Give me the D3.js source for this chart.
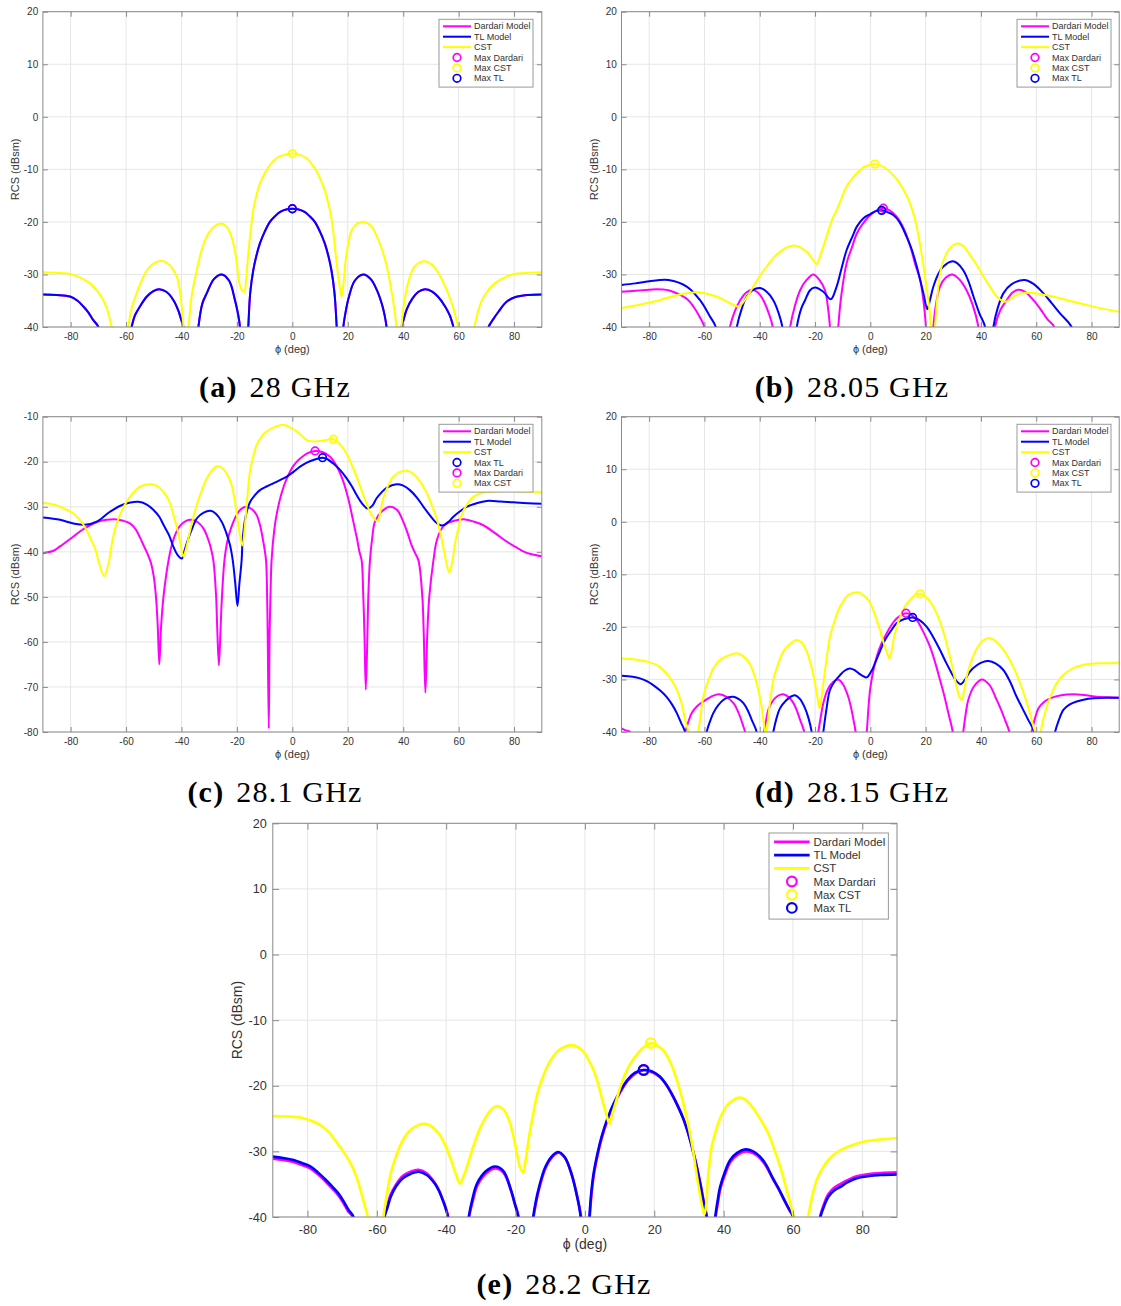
<!DOCTYPE html>
<html>
<head>
<meta charset="utf-8">
<script src="https://cdn.jsdelivr.net/npm/d3@7"></script>
<style>
  body { margin: 0; background: #fff; }
  svg { display: block; }
</style>
</head>
<body>
<svg id="fig" width="1121" height="1306"></svg>
<script>
// ---------- tick values ----------
const phiTicks = [-80, -60, -40, -20, 0, 20, 40, 60, 80];
const rcsTicks = [-40, -30, -20, -10, 0, 10, 20];
const rcsTicksDeep = [-80, -70, -60, -50, -40, -30, -20, -10];

// ---------- 28 GHz : [phi (deg), RCS (dBsm)] ----------
const cst28 = [[-90,-29.6],[-85,-29.7],[-80.2,-29.9],[-76.5,-30.6],[-73,-31.7],[-70.5,-33.1],[-68.2,-34.9],[-66.6,-37],[-65.2,-40],[-62.2,-52],[-59.2,-40],[-58,-36.5],[-56.2,-33.6],[-54.3,-31.1],[-52.5,-29.2],[-50,-27.9],[-47.1,-27.4],[-44.5,-28.1],[-41.7,-30.4],[-40.6,-33],[-39.9,-36.1],[-38.6,-43],[-37.5,-40],[-36.3,-34],[-34.5,-29.2],[-32.8,-25.5],[-30.9,-22.8],[-28.2,-20.9],[-25.5,-20.3],[-23.2,-21.3],[-21.3,-24.1],[-20.1,-27.6],[-19.1,-31.7],[-18.2,-33],[-17.4,-33.3],[-16.7,-31],[-15.9,-26],[-15,-21.5],[-14.1,-17.7],[-13,-15],[-11.7,-12.7],[-10,-10.8],[-8.1,-9.2],[-6.2,-8.1],[-4.4,-7.5],[-2,-7.1],[0,-7],[2.5,-7.2],[5.2,-7.9],[7,-9],[8.8,-10.4],[10.3,-12.1],[11.8,-14.2],[13,-16.5],[14.2,-19.6],[15.1,-23.4],[16,-27.9],[17,-32],[17.8,-34.2],[18.5,-31.5],[19.2,-27.5],[20.2,-24],[21.5,-21.5],[23.5,-20.3],[26,-20],[28.5,-20.8],[30.5,-22.8],[32.5,-25.5],[34.3,-29],[35.9,-33.5],[36.9,-37],[37.6,-40],[38.4,-43],[39.3,-40],[40.3,-35.5],[41.8,-31.5],[43.8,-28.7],[46,-27.7],[48,-27.5],[50.5,-28.2],[53,-30],[55.4,-32.6],[57.2,-35],[58.6,-37.4],[59.8,-40],[62.8,-52],[65.7,-40],[67,-37],[68.5,-34.8],[70.5,-33.1],[73,-31.7],[76.5,-30.6],[80.2,-29.9],[85,-29.7],[90,-29.6]];
const tl28 = [[-90,-33.8],[-85,-33.9],[-80.2,-34.2],[-77.5,-35],[-75.4,-36.1],[-73.5,-37.3],[-71.8,-38.7],[-70,-40],[-64,-55],[-58,-40],[-56.8,-37.8],[-55,-36.1],[-52.5,-34.2],[-50.3,-33.2],[-48,-32.8],[-45.5,-33.3],[-42.9,-34.9],[-41.2,-36.8],[-40.1,-38.6],[-39.3,-40],[-36.6,-55],[-33.9,-40],[-32.5,-35.6],[-30.9,-33.6],[-28.3,-30.9],[-25.5,-30],[-22.8,-31.2],[-20.7,-34.9],[-19.6,-37.5],[-18.9,-40],[-17.4,-55],[-15.9,-40],[-15.2,-33.5],[-14.1,-29.2],[-13,-26.5],[-11.7,-24.1],[-10,-21.9],[-8.1,-20],[-6.2,-18.9],[-4.4,-18.1],[-2,-17.6],[0,-17.5],[2,-17.6],[4.4,-18.1],[6.2,-18.9],[8.1,-20],[10,-21.9],[11.7,-24.1],[13,-26.5],[14.1,-29.2],[15.2,-33.5],[16,-40],[17.2,-55],[18.4,-40],[19.1,-37.5],[20.3,-34.5],[22.5,-31.2],[25.6,-30],[28.3,-30.9],[30.5,-33],[32.5,-36],[33.3,-37.8],[34,-40],[36.7,-55],[39.4,-40],[40.2,-38.5],[41.3,-36.6],[43.3,-34.6],[45.5,-33.3],[47.9,-32.8],[50.3,-33.2],[52.5,-34.2],[55,-36],[56.8,-37.8],[58.1,-40],[64,-55],[70.8,-40],[72.5,-38.5],[74.5,-37],[77.3,-35.2],[80.5,-34.3],[85,-33.9],[90,-33.8]];
const dardari28 = tl28.map(p => [p[0], p[1]]);
const maxDardari28 = [0, -17.5];
const maxCst28 = [0, -7];
const maxTl28 = [0, -17.5];

// ---------- 28.05 GHz ----------
const cst2805 = [[-90,-36.4],[-85,-35.9],[-78.5,-35.2],[-73,-34.4],[-68.8,-33.8],[-62.8,-33.4],[-58,-33.8],[-55.6,-34.2],[-51,-35.4],[-47.7,-36.1],[-45,-34.6],[-42.3,-32.3],[-40,-30.3],[-37.5,-28.5],[-35,-26.8],[-32.7,-25.7],[-30,-24.8],[-27.8,-24.5],[-25.5,-24.8],[-23,-25.7],[-21,-27],[-19.4,-28],[-18.2,-26.5],[-17,-24.7],[-15.2,-21.7],[-13.4,-19],[-12.6,-18.2],[-10.5,-15.6],[-8.7,-13.3],[-6.5,-11.7],[-4.8,-10.7],[-2,-9.5],[1.6,-9.0],[5,-9.6],[8.1,-11],[10,-12.2],[12,-13.9],[14,-16],[15.9,-19],[17.3,-22.3],[18.5,-26],[19.8,-30.5],[21,-34.9],[21.9,-40],[22.6,-46],[23.4,-40],[24.2,-34.5],[25.2,-29.8],[26.5,-27.3],[28.2,-25.4],[30,-24.4],[31.8,-24.1],[34,-24.8],[36,-26.3],[38.5,-28.2],[40.9,-30.4],[43.5,-32.5],[45.7,-34.2],[48.7,-35.2],[51,-34.5],[54.1,-33.6],[57.7,-33.5],[62,-33.8],[66.2,-34.2],[72,-35],[78.2,-35.8],[84,-36.5],[90,-37.1]];
const tl2805 = [[-90,-32.0],[-85,-31.7],[-80,-31.3],[-73,-31.05],[-66.4,-32.3],[-61.6,-34.9],[-58,-38],[-55.9,-40],[-52,-52],[-48.3,-40],[-46.5,-36.5],[-44.7,-34.2],[-42.3,-32.9],[-39.9,-32.6],[-37.5,-33.3],[-35.1,-34.9],[-33.2,-37.3],[-31.8,-40],[-29.2,-52],[-26.6,-40],[-25,-36.5],[-23.6,-34.9],[-21.8,-33],[-20,-32.5],[-17,-33.3],[-14.3,-34.7],[-12.2,-32.3],[-10.5,-29],[-8.6,-25.4],[-6.5,-22.8],[-4.9,-20.9],[-2.5,-19.3],[0,-18.5],[2,-17.95],[4.1,-17.8],[6,-18.1],[8.3,-18.7],[10.5,-20],[13.1,-22.8],[15,-25.3],[16.8,-28.5],[18,-31],[19.2,-33.6],[20.6,-36.6],[21.5,-35],[22.8,-32.3],[24.5,-30],[26.4,-28.5],[29.7,-27.5],[31.5,-27.9],[33.6,-29.2],[35.5,-31.3],[37.3,-34.2],[39.5,-37.5],[41.5,-40],[43,-50],[44.5,-40],[46,-36.5],[48.1,-33.6],[51,-31.9],[55.7,-31.05],[59,-31.8],[62.6,-33.6],[65.5,-35.4],[68.6,-37.4],[72.8,-40],[77,-48],[90,-60]];
const dardari2805 = [[-90,-33.3],[-85,-33.1],[-80,-32.9],[-77.3,-32.8],[-73,-33],[-68.8,-33.9],[-66,-34.8],[-64,-36.1],[-61.8,-38],[-60,-40],[-55.4,-55],[-50.8,-40],[-49,-37],[-47.1,-34.9],[-45,-33.5],[-42.9,-32.9],[-40.8,-33.4],[-38.7,-34.9],[-36.8,-37.3],[-35.3,-40],[-32.2,-55],[-29,-40],[-27.3,-36],[-25.4,-33],[-23,-31],[-20.6,-30],[-18.5,-31],[-16.4,-33],[-15.4,-36],[-14.6,-40],[-13.1,-55],[-11.6,-40],[-10.5,-34],[-8.6,-27.9],[-6.5,-24.6],[-4.9,-22.2],[-2.5,-20.2],[0,-18.7],[2.3,-17.8],[4.7,-17.4],[7,-17.8],[9.5,-19],[12,-21.2],[14.3,-24.4],[16.3,-28.2],[18,-31],[19.2,-35],[20.1,-40],[21.5,-55],[22.8,-40],[23.8,-35.5],[25.2,-32.3],[27.3,-30.6],[29.7,-30],[32.3,-31],[34.8,-33],[37,-35.8],[39.1,-40],[42.1,-55],[45.1,-40],[47,-36.8],[49.3,-34.9],[51.3,-33.5],[53.5,-32.9],[56,-33.3],[59,-34.9],[61.5,-36.6],[64,-38.5],[66.5,-40],[70,-50],[90,-60]];
const maxDardari2805 = [4.7, -17.4];
const maxCst2805 = [1.6, -9.0];
const maxTl2805 = [4.1, -17.8];

// ---------- 28.1 GHz ----------
const cst281 = [[-90,-29.1],[-86,-29.5],[-83.8,-30],[-79,-31.5],[-76.5,-33],[-74.2,-35.2],[-72.4,-37.6],[-71,-39.5],[-70,-41.9],[-67.9,-45.4],[-66.1,-41.9],[-65.2,-38.5],[-64,-35],[-62.2,-31.8],[-60.4,-29.5],[-58.6,-27.8],[-55,-25.5],[-50.7,-25],[-48.5,-25.5],[-46.5,-26.7],[-44.5,-28.7],[-42.9,-31.8],[-41.6,-34.7],[-40.5,-37.7],[-39.3,-41.1],[-38.4,-39.4],[-37.5,-37],[-36,-33],[-34.5,-29.6],[-32.7,-26.4],[-30.9,-23.7],[-29,-21.9],[-27.3,-21],[-25.5,-21.3],[-23.7,-22.6],[-22,-25],[-20.7,-28.9],[-19.6,-33.5],[-18.9,-36.3],[-18,-38.6],[-17.1,-34],[-16.2,-27.5],[-15.3,-22.2],[-14,-18.5],[-12.9,-16.3],[-11,-14.3],[-9.3,-13.3],[-6,-12.2],[-3.2,-11.8],[-1,-12.3],[1.6,-13.3],[3.5,-14.3],[5.2,-15.2],[8.2,-15.5],[11.8,-15.2],[14.8,-15],[16.5,-15.7],[18.4,-17],[20.2,-19],[22,-21.5],[23.8,-24.3],[25.6,-27.4],[27.1,-29.8],[28.6,-31.8],[30.7,-33.2],[31.8,-31],[32.8,-28.1],[34.5,-25.4],[36.4,-23.3],[38.7,-22.3],[41.2,-22],[43.5,-22.6],[46.1,-24.4],[48.3,-26.7],[50.3,-29.6],[52,-32.5],[53.3,-35.5],[54.4,-38.8],[55.4,-41.9],[56.6,-44.6],[57.8,-41.9],[58.6,-38.5],[59.8,-35],[61.1,-31.8],[63,-29.5],[65.3,-27.8],[68,-27],[71.3,-26.7],[77.3,-26.5],[83,-26.6],[90,-26.7]];
const tl281 = [[-90,-32.4],[-83.8,-32.9],[-79,-33.7],[-74.8,-34],[-70.6,-33.3],[-65.8,-31.1],[-61,-29.5],[-55.6,-28.9],[-52.5,-29.5],[-50.1,-30.7],[-48,-32.2],[-46.5,-34],[-44.5,-36.3],[-42.9,-38.9],[-41.3,-40.8],[-39.9,-41.5],[-38.8,-39.5],[-37.5,-37],[-36,-34.6],[-34.5,-32.6],[-32,-31.3],[-29.5,-30.9],[-27.5,-31.6],[-25.5,-33.3],[-24,-35.5],[-22.5,-38.5],[-21.5,-41.9],[-20.6,-47],[-19.8,-52],[-19.1,-47],[-18.3,-41.9],[-17.9,-37],[-16.8,-32],[-15.3,-29],[-13.5,-27.4],[-11.7,-26.3],[-9.3,-25.5],[-6.9,-24.8],[-4.5,-24.1],[-2,-23.3],[0.5,-22.2],[2.8,-21.1],[5.2,-20.2],[7.6,-19.6],[10.9,-19.1],[12.8,-19.5],[14.8,-20.4],[17.2,-21.8],[19.6,-23.7],[21.5,-25.5],[23.2,-27.4],[25.2,-29.3],[27.2,-30.4],[28.8,-29.8],[30.4,-28.1],[32.2,-26.8],[34,-25.8],[37.6,-25],[40,-25.3],[42.4,-26.3],[45,-28],[47.3,-30],[49.5,-31.8],[51.5,-33.3],[53,-34],[54.5,-34.1],[56.2,-33.4],[58.1,-32.2],[60.5,-31],[62.9,-30],[66.5,-29.2],[70.1,-28.7],[75,-28.8],[79.7,-29],[85,-29.2],[90,-29.3]];
const dardari281 = [[-90,-40.3],[-86,-39.7],[-83.8,-38.8],[-79,-36.6],[-76,-35.2],[-73,-34.1],[-70,-33.3],[-67,-32.9],[-63.4,-32.8],[-61,-33.1],[-58.6,-33.7],[-56.5,-35],[-55,-36.8],[-53.5,-38.8],[-52.2,-40.5],[-51,-42.5],[-50,-45.5],[-49.2,-50],[-48.6,-56],[-48,-65],[-47.4,-57],[-46.5,-50],[-45.6,-45.5],[-44.7,-42],[-43.5,-38.5],[-42,-35.8],[-40.5,-34.2],[-38.5,-33.2],[-36.3,-32.9],[-34,-33.5],[-32.1,-34.8],[-30.8,-36.5],[-29.7,-38.5],[-28.5,-41.9],[-27.5,-50],[-27.1,-57],[-26.5,-65.2],[-25.9,-57],[-25.4,-50],[-24.5,-41.9],[-23.5,-37.8],[-22,-34.5],[-20.1,-31.8],[-18.5,-30.5],[-16.5,-30],[-14.7,-30.5],[-12.9,-31.8],[-11.7,-34],[-10.5,-37.7],[-9.5,-41.9],[-9.1,-50],[-8.9,-58],[-8.5,-79.2],[-8.2,-58],[-7.9,-50],[-7.5,-41.9],[-6.5,-35],[-5.7,-31.8],[-4,-27.2],[-2,-23.7],[0.5,-20.8],[2.8,-19.3],[5.5,-18.1],[8.2,-17.6],[11,-17.9],[13.6,-18.9],[16,-21],[18.4,-24.4],[20.3,-28.5],[22,-33.3],[23.3,-37],[24.2,-40],[25,-41.9],[25.6,-50],[26,-58],[26.5,-70.6],[27.1,-58],[27.4,-50],[28,-41.9],[28.8,-37],[29.8,-33.3],[32.3,-31],[35.2,-30],[37.8,-30.7],[40,-33.3],[41.5,-35.7],[43,-38.5],[44.3,-40.3],[45.5,-41.9],[46.9,-50],[47.4,-58],[48,-71.3],[48.7,-58],[49.4,-50],[50.9,-41.9],[52.1,-37.5],[54,-34.7],[55.7,-33.7],[58.5,-33.1],[62.3,-32.8],[65.5,-33.3],[68.9,-34.1],[73,-35.8],[77.3,-37.7],[80.5,-38.9],[83.3,-39.9],[86,-40.5],[90,-41]];
const maxTl281 = [10.9, -19.1];
const maxDardari281 = [8.2, -17.6];
const maxCst281 = [14.8, -15];

// ---------- 28.15 GHz ----------
const cst2815 = [[-90,-26],[-85,-26.2],[-80.9,-26.6],[-77.5,-27.2],[-74.9,-28.2],[-72.3,-29.8],[-70,-32],[-68.3,-34.5],[-67,-37.7],[-65.8,-40],[-64,-48],[-62.2,-40],[-61.3,-36.5],[-60.4,-33.3],[-58.6,-30.2],[-56.8,-27.9],[-54.6,-26.4],[-52.5,-25.7],[-48.3,-25],[-46.2,-25.5],[-44.1,-26.6],[-42.5,-28.3],[-41.1,-30.7],[-40.1,-33],[-39.3,-35.2],[-38.4,-38.8],[-37.7,-41],[-37.1,-38],[-36.2,-34],[-35.1,-30.1],[-33.3,-27],[-31.5,-24.7],[-29,-23.2],[-26.6,-22.5],[-24.8,-23],[-23,-24.7],[-21.5,-27.2],[-20,-30.7],[-19.2,-33.2],[-18.4,-35.5],[-17.7,-33.5],[-17,-30.7],[-15.8,-26],[-14.6,-21.9],[-13,-19],[-11.6,-16.8],[-10,-15.3],[-8.6,-14.2],[-6.5,-13.6],[-4.6,-13.4],[-2.7,-13.9],[-0.7,-14.9],[0.8,-16.5],[2.3,-18.7],[3.5,-20.6],[4.7,-22.8],[5.8,-24.6],[6.9,-26],[7.7,-24.5],[8.6,-21.9],[9.9,-19.4],[11.3,-17.4],[12.8,-15.9],[14.3,-14.9],[16,-14],[18,-13.7],[19.8,-14.2],[21.6,-15.2],[23.4,-16.8],[25.2,-19],[27,-22],[28.8,-25.7],[30,-28.5],[31.2,-31.4],[32.2,-33.3],[33,-33.9],[33.8,-32.4],[34.8,-29.5],[36.5,-26.5],[38.5,-24.1],[40.5,-22.7],[42.7,-22.1],[44.8,-22.5],[46.9,-23.5],[49.3,-25.3],[51.7,-27.6],[53.8,-30.2],[55.9,-33.3],[57.5,-36],[59,-39],[59.6,-40],[60.6,-46],[61.6,-40],[62.6,-37.5],[63.8,-35.2],[65.5,-32.8],[67.4,-30.7],[69.7,-29.2],[72.2,-28.2],[75,-27.5],[78.2,-27.1],[84,-26.9],[90,-26.8]];
const tl2815 = [[-90,-29.3],[-86,-29.5],[-83.3,-29.8],[-80.5,-30.4],[-78.5,-31.1],[-76,-32.1],[-73.7,-33.3],[-71.8,-34.7],[-70,-36.4],[-68.5,-38.2],[-67,-40],[-63.5,-52],[-59.2,-40],[-58,-38],[-56.8,-36.4],[-55,-34.9],[-53.2,-33.9],[-51.3,-33.4],[-49.5,-33.3],[-47.7,-33.7],[-45.9,-34.5],[-44.4,-35.8],[-42.9,-37.7],[-41.1,-40],[-38.2,-50],[-35.1,-40],[-34,-37.5],[-32.7,-35.5],[-30.5,-34],[-28.5,-33.2],[-27.2,-33],[-25.5,-33.7],[-23.6,-35.5],[-22.3,-37.5],[-21.2,-40],[-19,-50],[-17,-40],[-15.8,-35.4],[-14.6,-32],[-12.8,-30.3],[-11,-29.2],[-9.2,-28.3],[-7.4,-27.9],[-5.8,-28.2],[-4.3,-28.8],[-2.8,-29.3],[-1.3,-29.6],[0.2,-28.6],[1.7,-26.9],[3.5,-24.6],[5.3,-22.5],[7.5,-20.7],[9.5,-19.3],[12.3,-18.5],[15.3,-18.2],[17.8,-18.7],[20.4,-20],[22.8,-22],[25.2,-24.4],[27.4,-26.8],[29.4,-28.8],[31,-30.2],[32.7,-30.9],[34.3,-30],[36,-28.5],[38.5,-27.3],[40.6,-26.7],[42.7,-26.5],[45.4,-27],[48.1,-28.2],[50.5,-30.4],[52.9,-33.3],[55,-35.5],[57.1,-37.7],[59.3,-40],[63,-50],[66.8,-40],[68.2,-37.7],[69.8,-35.8],[72,-34.8],[74.6,-34.2],[77.5,-33.8],[80.7,-33.6],[85,-33.5],[90,-33.5]];
const dardari2815 = [[-90,-39.3],[-88.5,-39.7],[-86.9,-40],[-82,-48],[-77,-50],[-72,-46],[-67,-40],[-65.8,-38],[-64.6,-36.4],[-62.5,-35],[-60.4,-34.2],[-57.7,-33.3],[-55,-32.8],[-52.3,-33.2],[-49.5,-34.5],[-48.3,-35.6],[-47.1,-37.1],[-46.2,-38.5],[-45.3,-40],[-42,-50],[-38.5,-40],[-37.7,-37.8],[-36.9,-35.8],[-35.2,-34],[-33.4,-33.1],[-31.5,-32.8],[-29.7,-33.3],[-27.8,-34.5],[-26.6,-35.9],[-25.4,-37.7],[-23.9,-40],[-21.3,-50],[-18.8,-40],[-17.9,-37],[-17,-34.5],[-15.5,-32],[-13.5,-30.5],[-11.6,-30],[-9.8,-31],[-8,-33.3],[-7,-35.3],[-6.1,-37.7],[-5.3,-40],[-3.3,-50],[-1.3,-40],[-0.7,-35.5],[-0.1,-32],[1,-28.5],[2.3,-25.7],[4,-23.2],[5.9,-21.2],[7.7,-19.6],[9.5,-18.4],[11,-17.8],[12.9,-17.4],[14.8,-17.7],[16.8,-18.7],[19.2,-21],[21.6,-23.8],[23.4,-26.7],[25.2,-30.1],[26.7,-33],[28.2,-36.4],[29.8,-40],[31.7,-50],[33.6,-40],[34.5,-36.5],[35.4,-33.9],[37.5,-31.3],[40.3,-30],[43,-31],[45.7,-33.9],[47.3,-35.8],[48.7,-37.7],[50.3,-40],[54.3,-50],[58.3,-40],[59.5,-37.5],[60.8,-35.5],[62.8,-34.3],[65,-33.6],[69,-33],[73.4,-32.8],[78,-33],[81.9,-33.3],[86,-33.4],[90,-33.5]];
const maxDardari2815 = [12.9, -17.4];
const maxCst2815 = [18, -13.7];
const maxTl2815 = [15.3, -18.2];

// ---------- 28.2 GHz ----------
const cst282 = [[-90,-24.6],[-85,-24.7],[-81.5,-24.9],[-78.5,-25.4],[-75.7,-26.2],[-73.3,-27.4],[-71.1,-29],[-69.3,-30.3],[-67.6,-31.8],[-66,-33.7],[-64.7,-35.9],[-63.6,-38],[-62.6,-40],[-60.3,-50],[-58.1,-40],[-57.1,-36.5],[-56,-33.4],[-54.5,-30.8],[-52.5,-28.3],[-50,-26.6],[-48,-26],[-46.2,-25.8],[-44.2,-26.2],[-42.1,-27.3],[-40.3,-29],[-38.6,-31.3],[-37.2,-33.5],[-36,-34.9],[-35,-33.8],[-34,-32.3],[-32.2,-29.3],[-30.5,-26.8],[-28.5,-24.7],[-26.8,-23.5],[-25.3,-23.1],[-23.5,-23.6],[-21.9,-25.2],[-20.7,-27.5],[-19.6,-30.3],[-18.7,-32.4],[-17.8,-33.2],[-17,-31],[-16.1,-27.8],[-14.9,-24.3],[-13.7,-21.2],[-12.3,-18.9],[-10.9,-17.1],[-9.5,-15.8],[-8,-14.8],[-6,-14.1],[-3.9,-13.8],[-2,-14.1],[-0.4,-14.8],[1,-16],[2.5,-17.6],[3.7,-19.5],[4.8,-21.7],[6,-24],[7.1,-25.8],[7.9,-24.3],[8.8,-22.7],[10.2,-20.2],[11.7,-18.1],[13.4,-16.4],[15.2,-15.1],[17,-14.1],[19,-13.5],[21.2,-14],[23.3,-15.1],[25.1,-17],[26.8,-19.6],[28.3,-22.5],[29.7,-25.7],[31,-29.2],[32,-32.8],[33,-36],[34,-38.8],[34.5,-39.6],[35,-38],[35.5,-34],[36.5,-29.5],[37.8,-26.8],[39.2,-24.7],[40.7,-23.2],[42.5,-22.3],[44.4,-21.8],[46.3,-22.1],[48.2,-23.2],[50.5,-25],[52.9,-27.3],[54.7,-29.8],[56.3,-32.3],[57.6,-34.7],[58.7,-36.9],[60.2,-40],[62.3,-48],[64.4,-40],[65.5,-37],[66.8,-34.4],[68.5,-32.6],[70.2,-31.3],[72.5,-30.2],[74.9,-29.5],[77.8,-28.9],[80.7,-28.5],[85,-28.2],[90,-28.0]];
const tl282 = [[-90,-30.8],[-87,-31],[-84,-31.3],[-81.5,-31.8],[-79.2,-32.3],[-77,-33.2],[-74.6,-34.4],[-72.8,-35.4],[-71.1,-36.4],[-69.6,-37.6],[-68.2,-38.9],[-66.7,-40],[-62.3,-52],[-57.8,-40],[-56.9,-38.5],[-56,-36.9],[-54.3,-35.2],[-52.5,-34.1],[-50.2,-33.4],[-47.9,-33.1],[-45.6,-33.6],[-43.3,-34.9],[-42.1,-36],[-41,-37.4],[-40.2,-38.6],[-39.5,-40],[-36.5,-52],[-33.5,-40],[-32.4,-37.2],[-31.1,-34.9],[-28.5,-33],[-25.9,-32.3],[-23.5,-33],[-21.3,-35.9],[-20.3,-37.8],[-19.2,-40],[-17,-52],[-14.9,-40],[-14.1,-37.5],[-13.2,-35.4],[-11.5,-32.5],[-9.6,-30.8],[-7.7,-30.1],[-5.8,-30.9],[-3.9,-33.4],[-2.5,-36.3],[-1.2,-40],[0,-50],[1.3,-40],[1.8,-36.5],[2.5,-33.4],[3.6,-30.4],[4.8,-27.8],[6.5,-25],[8.3,-22.7],[10.3,-20.7],[12.3,-19.1],[14.5,-18],[16.9,-17.6],[19.2,-17.8],[21.6,-18.6],[23.3,-19.7],[25,-21.2],[26.8,-23.1],[28.5,-25.2],[30.3,-28.2],[32,-31.8],[33.2,-34.8],[34.3,-37.9],[35.1,-40],[36.3,-50],[37.6,-40],[38.2,-37.8],[39,-35.4],[40.4,-33.1],[41.9,-31.3],[44,-30.2],[46.3,-29.7],[48.5,-30],[50.5,-30.8],[52.3,-32.1],[54,-33.9],[55.8,-35.6],[57.5,-37.4],[58.8,-38.7],[60.1,-40],[64,-52],[67.9,-40],[69,-38.3],[70.2,-36.9],[71.8,-36],[73.7,-35.4],[75.8,-34.7],[78.4,-34.1],[81.5,-33.8],[85.3,-33.6],[90,-33.5]];
const dardari282 = [[-90,-31.1],[-87,-31.3],[-84,-31.6],[-81.5,-32.1],[-79.2,-32.6],[-77,-33.5],[-74.6,-34.7],[-72.8,-35.7],[-71.1,-36.7],[-69.6,-37.9],[-68.2,-39.2],[-66.9,-40],[-62.3,-52],[-57.9,-40],[-57,-38.4],[-56.1,-36.7],[-54.4,-35],[-52.6,-33.8],[-50.3,-33.1],[-48,-32.8],[-45.7,-33.3],[-43.4,-34.7],[-42.2,-35.8],[-41.1,-37.2],[-40.2,-38.5],[-39.4,-40],[-36.4,-52],[-33.4,-40],[-32.3,-37.5],[-31,-35.2],[-28.4,-33.3],[-25.8,-32.6],[-23.4,-33.3],[-21.2,-36.2],[-20.2,-38],[-19.1,-40],[-17,-52],[-14.8,-40],[-14,-37.6],[-13.1,-35.5],[-11.4,-32.6],[-9.5,-30.9],[-7.6,-30.2],[-5.7,-31],[-3.8,-33.5],[-2.4,-36.4],[-1.1,-40],[0.1,-50],[1.4,-40],[1.9,-36.6],[2.6,-33.5],[3.7,-30.5],[4.9,-27.9],[6.6,-25.1],[8.4,-22.8],[10.4,-20.8],[12.4,-19.2],[14.6,-18.1],[17,-17.6],[19.3,-17.9],[21.7,-18.7],[23.4,-19.8],[25.1,-21.3],[26.9,-23.2],[28.6,-25.3],[30.4,-28.3],[32.1,-31.9],[33.3,-34.9],[34.4,-38],[35.2,-40],[36.4,-50],[37.7,-40],[38.3,-38],[39.1,-35.6],[40.5,-33.4],[42,-31.6],[44.1,-30.5],[46.4,-30],[48.6,-30.3],[50.6,-31.1],[52.4,-32.4],[54.1,-34.1],[55.9,-35.8],[57.6,-37.6],[58.9,-38.9],[60.2,-40],[64,-52],[67.8,-40],[68.9,-38.1],[70.1,-36.6],[71.7,-35.6],[73.6,-35],[75.7,-34.4],[78.3,-33.8],[81.4,-33.5],[85.2,-33.3],[90,-33.2]];
const maxDardari282 = [17, -17.6];
const maxCst282 = [19, -13.5];
const maxTl282 = [16.9, -17.6];

// ---------- names and colours ----------
const lineNames = { dardari: "Dardari Model", tl: "TL Model", cst: "CST" };
const markerNames = { dardari: "Max Dardari", cst: "Max CST", tl: "Max TL" };
const colors = { dardari: "#ff00ff", tl: "#0000ff", cst: "#ffff00" };

// ---------- subplot definitions ----------
const panels = [
  { tag: "(a)", freq: "28 GHz", yTicks: rcsTicks,
    lines: { dardari: dardari28, tl: tl28, cst: cst28 },
    maxima: { dardari: maxDardari28, cst: maxCst28, tl: maxTl28 },
    markerOrder: ["dardari", "cst", "tl"],
    frame: { x0: 42.9, x1: 541.8, y0: 11.7, y1: 327, k: 1, cap: [275, 397], leg: [439, 19.3] } },
  { tag: "(b)", freq: "28.05 GHz", yTicks: rcsTicks,
    lines: { dardari: dardari2805, tl: tl2805, cst: cst2805 },
    maxima: { dardari: maxDardari2805, cst: maxCst2805, tl: maxTl2805 },
    markerOrder: ["dardari", "cst", "tl"],
    frame: { x0: 621.5, x1: 1119.2, y0: 11.7, y1: 327, k: 1, cap: [852, 397], leg: [1017, 19.3] } },
  { tag: "(c)", freq: "28.1 GHz", yTicks: rcsTicksDeep,
    lines: { dardari: dardari281, tl: tl281, cst: cst281 },
    maxima: { tl: maxTl281, dardari: maxDardari281, cst: maxCst281 },
    markerOrder: ["tl", "dardari", "cst"],
    frame: { x0: 42.9, x1: 541.8, y0: 416.7, y1: 732, k: 1, cap: [275, 802], leg: [439, 424.3] } },
  { tag: "(d)", freq: "28.15 GHz", yTicks: rcsTicks,
    lines: { dardari: dardari2815, tl: tl2815, cst: cst2815 },
    maxima: { dardari: maxDardari2815, cst: maxCst2815, tl: maxTl2815 },
    markerOrder: ["dardari", "cst", "tl"],
    frame: { x0: 621.5, x1: 1119.2, y0: 416.7, y1: 732, k: 1, cap: [852, 802], leg: [1017, 424.3] } },
  { tag: "(e)", freq: "28.2 GHz", yTicks: rcsTicks,
    lines: { dardari: dardari282, tl: tl282, cst: cst282 },
    maxima: { dardari: maxDardari282, cst: maxCst282, tl: maxTl282 },
    markerOrder: ["dardari", "cst", "tl"],
    frame: { x0: 272.8, x1: 897, y0: 823.3, y1: 1217, k: 1.27, cap: [564, 1294], leg: [769, 833] } }
];

const svg = d3.select("#fig");
const sans = "'Liberation Sans', Arial, Helvetica, sans-serif";
const axisColor = "#8a8a8a";
const textColor = "#333333";
const gridColor = "#e6e6e6";

panels.forEach((p, idx) => {
  const f = p.frame, k = f.k;
  const yExt = d3.extent(p.yTicks);
  const x = d3.scaleLinear().domain([-90, 90]).range([f.x0, f.x1]);
  const y = d3.scaleLinear().domain(yExt).range([f.y1, f.y0]);
  const g = svg.append("g");
  const lw = k > 1 ? 2.6 : 2;

  // grid
  g.append("g").selectAll("line").data(phiTicks).join("line")
    .attr("x1", d => x(d)).attr("x2", d => x(d)).attr("y1", f.y0).attr("y2", f.y1)
    .attr("stroke", gridColor).attr("stroke-width", 1);
  g.append("g").selectAll("line").data(p.yTicks).join("line")
    .attr("x1", f.x0).attr("x2", f.x1).attr("y1", d => y(d)).attr("y2", d => y(d))
    .attr("stroke", gridColor).attr("stroke-width", 1);

  // clip region for the curves
  const clipId = "clip" + idx;
  svg.append("clipPath").attr("id", clipId).append("rect")
    .attr("x", f.x0).attr("y", f.y0).attr("width", f.x1 - f.x0).attr("height", f.y1 - f.y0);

  const line = d3.line().x(d => x(d[0])).y(d => y(d[1])).curve(d3.curveCatmullRom.alpha(0.5));
  const curves = g.append("g").attr("clip-path", `url(#${clipId})`);
  ["dardari", "tl", "cst"].forEach(key => {
    curves.append("path").datum(p.lines[key])
      .attr("d", line).attr("fill", "none")
      .attr("stroke", colors[key]).attr("stroke-width", lw)
      .attr("stroke-linejoin", "round");
  });

  // maximum markers
  p.markerOrder.forEach(key => {
    const m = p.maxima[key];
    g.append("circle").attr("cx", x(m[0])).attr("cy", y(m[1])).attr("r", 3.8 * k)
      .attr("fill", "none").attr("stroke", colors[key]).attr("stroke-width", 1.7 * k);
  });

  // axes (inward ticks on all four sides)
  const fmt = d => String(d);
  const tl = 5 * k;
  const styleAxis = sel => {
    sel.select(".domain").remove();
    sel.selectAll(".tick line").attr("stroke", axisColor);
    sel.selectAll(".tick text").attr("fill", textColor)
      .style("font-family", sans).style("font-size", (10 * k) + "px");
  };
  g.append("g").attr("transform", `translate(0,${f.y1})`)
    .call(d3.axisBottom(x).tickValues(phiTicks).tickFormat(fmt).tickSizeInner(-tl).tickSizeOuter(0).tickPadding(6 * k))
    .call(styleAxis);
  g.append("g").attr("transform", `translate(0,${f.y0})`)
    .call(d3.axisTop(x).tickValues(phiTicks).tickFormat("").tickSizeInner(-tl).tickSizeOuter(0))
    .call(styleAxis);
  g.append("g").attr("transform", `translate(${f.x0},0)`)
    .call(d3.axisLeft(y).tickValues(p.yTicks).tickFormat(fmt).tickSizeInner(-tl).tickSizeOuter(0).tickPadding(4.7 * k))
    .call(styleAxis);
  g.append("g").attr("transform", `translate(${f.x1},0)`)
    .call(d3.axisRight(y).tickValues(p.yTicks).tickFormat("").tickSizeInner(-tl).tickSizeOuter(0))
    .call(styleAxis);

  g.append("rect").attr("x", f.x0).attr("y", f.y0)
    .attr("width", f.x1 - f.x0).attr("height", f.y1 - f.y0)
    .attr("fill", "none").attr("stroke", axisColor).attr("stroke-width", 1);

  // axis labels
  g.append("text").attr("x", (f.x0 + f.x1) / 2).attr("y", f.y1 + 25.5 * k)
    .attr("text-anchor", "middle").attr("fill", textColor)
    .style("font-family", sans).style("font-size", (11 * k) + "px")
    .text("ϕ (deg)");
  g.append("text")
    .attr("transform", `translate(${f.x0 - 24 * k},${(f.y0 + f.y1) / 2}) rotate(-90)`)
    .attr("text-anchor", "middle").attr("fill", textColor)
    .style("font-family", sans).style("font-size", (11 * k) + "px")
    .text("RCS (dBsm)");

  // legend
  const lx = f.leg[0], ly = f.leg[1];
  const rowH = 10.4 * k;
  const entries = [
    ...["dardari", "tl", "cst"].map(key => ({ key, kind: "line", name: lineNames[key] })),
    ...p.markerOrder.map(key => ({ key, kind: "marker", name: markerNames[key] }))
  ];
  const lg = g.append("g");
  lg.append("rect").attr("x", lx).attr("y", ly)
    .attr("width", 94 * k).attr("height", 7 * k + rowH * 5 + 8.8 * k)
    .attr("fill", "#ffffff").attr("stroke", "#9a9a9a").attr("stroke-width", 1);
  entries.forEach((e, i) => {
    const ry = ly + 7 * k + i * rowH;
    if (e.kind === "line") {
      lg.append("line").attr("x1", lx + 4 * k).attr("x2", lx + 32 * k)
        .attr("y1", ry).attr("y2", ry)
        .attr("stroke", colors[e.key]).attr("stroke-width", lw);
    } else {
      lg.append("circle").attr("cx", lx + 18 * k).attr("cy", ry).attr("r", 3.8 * k)
        .attr("fill", "none").attr("stroke", colors[e.key]).attr("stroke-width", 1.7 * k);
    }
    lg.append("text").attr("x", lx + 35 * k).attr("y", ry).attr("dy", "0.35em")
      .attr("fill", textColor)
      .style("font-family", sans).style("font-size", (9 * k) + "px")
      .text(e.name);
  });

  // sub-caption
  const cap = svg.append("text").attr("x", f.cap[0]).attr("y", f.cap[1])
    .attr("text-anchor", "middle").attr("fill", "#000")
    .style("font-family", "'Liberation Serif', 'Times New Roman', serif")
    .style("font-size", "30px").style("letter-spacing", "1.2px");
  cap.append("tspan").attr("font-weight", "bold").text(p.tag);
  cap.append("tspan").attr("dx", 12).text(p.freq);
});
</script>
</body>
</html>
